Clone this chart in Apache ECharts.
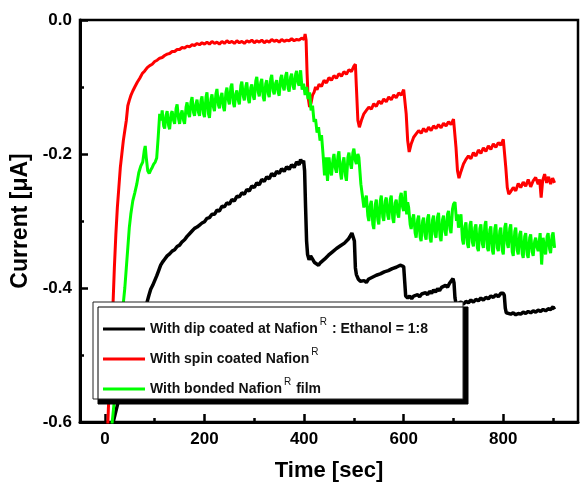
<!DOCTYPE html>
<html>
<head>
<meta charset="utf-8">
<script src="https://cdn.jsdelivr.net/npm/echarts@6/dist/echarts.min.js"></script>
<style>
html,body{margin:0;padding:0;background:#fff;}
#chart{width:580px;height:492px;}
</style>
</head>
<body>
<div id="chart"></div>
<script>
// ---- tick labels ----
const xMajorTicks = [0, 200, 400, 600, 800];
const xMinorTicks = [100, 300, 500, 700, 900];

// ---- legend text pieces ----
const seriesNames = ['dip', 'spin', 'bonded'];
const legendMain = ['With dip coated at Nafion', 'With spin coated Nafion', 'With bonded Nafion'];
const legendTail = [' : Ethanol = 1:8', '', ' film'];

// ---- data: [time (sec), current (uA)] ----
const blackData = [
[0,-0.66],[10,-0.62],[20,-0.59],[30,-0.56],[40,-0.53],[50,-0.50],[60,-0.475],[70,-0.45],[80,-0.43],
[84,-0.423],[88,-0.412],[92,-0.402],[96,-0.396],[100,-0.389],[104,-0.382],[108,-0.374],[112,-0.366],[116,-0.361],[120,-0.357],
[125,-0.352],[130,-0.349],[135,-0.345],[140,-0.343],[145,-0.338],[150,-0.336],[155,-0.331],[160,-0.328],[165,-0.323],[170,-0.319],
[175,-0.315],[180,-0.311],[185,-0.309],[190,-0.306],[195,-0.303],[200,-0.301],[205,-0.296],[210,-0.295],[215,-0.290],[220,-0.290],
[225,-0.284],[230,-0.285],[235,-0.278],[240,-0.279],[245,-0.273],[250,-0.275],[255,-0.268],[260,-0.270],[265,-0.263],[270,-0.264],
[275,-0.258],[280,-0.260],[285,-0.253],[290,-0.255],[295,-0.248],[300,-0.250],[305,-0.243],[310,-0.246],[315,-0.238],[320,-0.241],
[325,-0.234],[330,-0.237],[335,-0.229],[340,-0.233],[345,-0.226],[350,-0.229],[355,-0.222],[360,-0.226],[365,-0.219],[370,-0.223],
[375,-0.216],[380,-0.220],[385,-0.212],[390,-0.216],[393,-0.208],[396,-0.213],[399,-0.210],[401,-0.225],[403,-0.28],[405,-0.33],[407,-0.350],
[410,-0.358],[413,-0.352],[417,-0.357],[421,-0.362],[425,-0.360],[429,-0.366],[433,-0.362],[437,-0.364],[441,-0.357],[445,-0.356],
[449,-0.351],[453,-0.350],[457,-0.346],[461,-0.347],[465,-0.341],[469,-0.343],[473,-0.337],[477,-0.339],[481,-0.333],[485,-0.334],
[489,-0.327],[493,-0.329],[496,-0.318],[499,-0.325],[501,-0.33],[503,-0.37],[505,-0.380],
[509,-0.387],[513,-0.390],[517,-0.392],[521,-0.389],[525,-0.392],[529,-0.387],[533,-0.389],[537,-0.384],[541,-0.386],[545,-0.381],
[549,-0.383],[553,-0.379],[557,-0.381],[561,-0.376],[565,-0.378],[569,-0.374],[573,-0.376],[577,-0.371],[581,-0.373],[585,-0.369],
[589,-0.371],[593,-0.366],[597,-0.364],[600,-0.368],[602,-0.39],[604,-0.412],
[608,-0.415],[612,-0.412],[616,-0.416],[620,-0.412],[624,-0.414],[628,-0.410],[632,-0.413],[636,-0.409],[640,-0.411],[644,-0.407],
[648,-0.410],[652,-0.405],[656,-0.408],[660,-0.403],[664,-0.406],[668,-0.401],[672,-0.404],[676,-0.399],[680,-0.401],[684,-0.396],
[688,-0.399],[692,-0.393],[696,-0.395],[699,-0.386],[701,-0.392],[703,-0.415],[705,-0.423],
[710,-0.423],[715,-0.421],[720,-0.424],[725,-0.420],[730,-0.422],[735,-0.418],[740,-0.421],[745,-0.417],[750,-0.419],[755,-0.415],
[760,-0.418],[765,-0.414],[770,-0.416],[775,-0.412],[780,-0.414],[785,-0.410],[790,-0.413],[795,-0.408],[800,-0.408],[802,-0.411],
[804,-0.43],[806,-0.437],
[810,-0.437],[815,-0.439],[820,-0.437],[825,-0.440],[830,-0.438],[835,-0.439],[840,-0.436],[845,-0.438],[850,-0.435],[855,-0.437],
[860,-0.434],[865,-0.436],[870,-0.433],[875,-0.435],[880,-0.432],[885,-0.434],[890,-0.431],[895,-0.432],[900,-0.428],[903,-0.432]
];

const redData = [
[4,-0.64],[7,-0.58],[10,-0.53],[13,-0.48],[16,-0.43],[19,-0.37],[22,-0.32],[25,-0.28],[28,-0.25],[31,-0.22],[34,-0.20],[37,-0.18],
[40,-0.165],[43,-0.15],[46,-0.128],[49,-0.12],[52,-0.113],[56,-0.106],[60,-0.100],[65,-0.093],[70,-0.087],[75,-0.080],[80,-0.076],
[85,-0.071],[90,-0.068],[95,-0.066],[100,-0.062],[105,-0.060],[110,-0.057],[115,-0.056],[120,-0.053],[125,-0.051],[130,-0.050],
[135,-0.047],[140,-0.047],[145,-0.044],[150,-0.044],[155,-0.041],[160,-0.042],[165,-0.039],[170,-0.040],[175,-0.037],[180,-0.038],
[185,-0.035],[190,-0.037],[195,-0.034],[200,-0.036],[205,-0.033],[210,-0.036],[215,-0.032],[220,-0.035],[225,-0.033],[230,-0.036],
[235,-0.032],[240,-0.035],[245,-0.031],[250,-0.034],[255,-0.032],[260,-0.035],[265,-0.031],[270,-0.034],[275,-0.032],[280,-0.035],
[285,-0.031],[290,-0.033],[295,-0.030],[300,-0.034],[305,-0.031],[310,-0.033],[315,-0.030],[320,-0.034],[325,-0.031],[330,-0.033],
[335,-0.029],[340,-0.032],[345,-0.030],[350,-0.033],[355,-0.029],[360,-0.032],[365,-0.030],[370,-0.031],[375,-0.028],[380,-0.031],
[385,-0.029],[390,-0.030],[395,-0.027],[400,-0.029],[402,-0.021],[404,-0.03],[406,-0.08],[408,-0.115],[411,-0.13],
[414,-0.124],[417,-0.112],[420,-0.108],[423,-0.100],[426,-0.104],[430,-0.096],[435,-0.099],[440,-0.090],[445,-0.094],[450,-0.086],
[455,-0.090],[460,-0.083],[465,-0.087],[470,-0.080],[475,-0.084],[480,-0.077],[485,-0.081],[490,-0.074],[495,-0.077],[500,-0.069],
[503,-0.066],[505,-0.10],[508,-0.15],[511,-0.160],[515,-0.150],
[520,-0.140],[525,-0.135],[530,-0.130],[535,-0.133],[540,-0.125],[545,-0.129],[550,-0.121],[555,-0.125],[560,-0.118],[565,-0.122],
[570,-0.115],[575,-0.119],[580,-0.112],[585,-0.116],[590,-0.109],[595,-0.112],[600,-0.104],[603,-0.103],[605,-0.14],[608,-0.18],
[611,-0.197],[615,-0.185],
[620,-0.175],[625,-0.170],[630,-0.165],[635,-0.169],[640,-0.162],[645,-0.167],[650,-0.160],[655,-0.165],[660,-0.158],[665,-0.162],
[670,-0.156],[675,-0.161],[680,-0.154],[685,-0.158],[690,-0.152],[695,-0.156],[700,-0.148],[703,-0.150],[705,-0.19],[708,-0.225],
[711,-0.236],[715,-0.226],
[720,-0.215],[725,-0.208],[730,-0.203],[735,-0.207],[740,-0.198],[745,-0.203],[750,-0.194],[755,-0.199],[760,-0.191],[765,-0.196],
[770,-0.188],[775,-0.193],[780,-0.185],[785,-0.190],[790,-0.183],[795,-0.187],[800,-0.178],[803,-0.176],[805,-0.22],[808,-0.25],
[811,-0.260],[815,-0.256],
[820,-0.250],[825,-0.255],[830,-0.244],[835,-0.250],[840,-0.242],[845,-0.248],[850,-0.238],[855,-0.249],[860,-0.240],[865,-0.235],
[870,-0.245],[873,-0.238],[876,-0.265],[879,-0.240],[883,-0.230],[887,-0.243],[891,-0.234],[895,-0.245],[899,-0.236],[903,-0.243]
];

const greenData = [
[8,-0.66],[12,-0.62],[16,-0.59],[20,-0.56],[24,-0.53],[28,-0.50],[32,-0.47],[36,-0.43],[40,-0.40],[43,-0.37],[46,-0.34],[49,-0.31],
[52,-0.29],[56,-0.270],[60,-0.258],[64,-0.245],[68,-0.228],[72,-0.218],[76,-0.212],[79,-0.195],[81,-0.188],[83,-0.205],[86,-0.225],
[89,-0.229],[92,-0.224],[95,-0.220],[98,-0.215],[101,-0.212],[104,-0.206],[107,-0.175],[110,-0.140],
[113,-0.150],[115,-0.135],[118,-0.158],[120,-0.162],[123,-0.142],[125,-0.136],[128,-0.158],[130,-0.163],[133,-0.140],[135,-0.136],
[138,-0.150],[140,-0.155],[143,-0.132],[145,-0.126],[148,-0.148],[150,-0.155],[153,-0.140],[155,-0.135],[158,-0.150],[160,-0.155],
[163,-0.130],[165,-0.123],[168,-0.140],[170,-0.145],[173,-0.122],[175,-0.115],[178,-0.138],[180,-0.143],[183,-0.125],[185,-0.119],
[188,-0.138],[190,-0.143],[193,-0.120],[195,-0.114],[198,-0.140],[200,-0.145],[203,-0.115],[205,-0.108],[208,-0.140],[210,-0.146],
[213,-0.118],[215,-0.111],[218,-0.130],[220,-0.136],[223,-0.110],[225,-0.103],[228,-0.127],[230,-0.132],[233,-0.114],[235,-0.109],
[238,-0.130],[240,-0.136],[243,-0.108],[245,-0.101],[248,-0.120],[250,-0.126],[253,-0.100],[255,-0.095],[258,-0.124],[260,-0.130],
[263,-0.110],[265,-0.105],[268,-0.120],[270,-0.126],[273,-0.098],[275,-0.092],[278,-0.114],[280,-0.120],[283,-0.099],[285,-0.093],
[288,-0.118],[290,-0.124],[293,-0.101],[295,-0.096],[298,-0.114],[300,-0.119],[303,-0.091],[305,-0.085],[308,-0.108],[310,-0.114],
[313,-0.093],[315,-0.088],[318,-0.115],[320,-0.121],[323,-0.095],[325,-0.090],[328,-0.110],[330,-0.115],[333,-0.088],[335,-0.082],
[338,-0.106],[340,-0.111],[343,-0.094],[345,-0.090],[348,-0.108],[350,-0.113],[353,-0.087],[355,-0.082],[358,-0.100],[360,-0.105],
[363,-0.083],[365,-0.078],[368,-0.102],[370,-0.107],[373,-0.085],[375,-0.080],[378,-0.099],[380,-0.104],[383,-0.081],[385,-0.076],
[388,-0.094],[390,-0.098],[393,-0.075],[396,-0.104],[399,-0.095],[402,-0.112],
[405,-0.100],[408,-0.118],[411,-0.108],[414,-0.135],[417,-0.128],[420,-0.152],[423,-0.148],[426,-0.168],[429,-0.160],[432,-0.180],
[435,-0.172],[438,-0.200],[441,-0.232],[444,-0.205],[447,-0.240],[450,-0.205],[453,-0.225],[455,-0.232],[458,-0.208],[460,-0.200],
[463,-0.222],[465,-0.228],[468,-0.203],[470,-0.196],[473,-0.228],[475,-0.238],[478,-0.212],[480,-0.205],[483,-0.232],[485,-0.240],
[488,-0.205],[490,-0.198],[493,-0.215],[495,-0.222],[498,-0.198],[500,-0.192],[503,-0.210],[505,-0.215],[508,-0.200],[510,-0.205],
[514,-0.245],[517,-0.262],[520,-0.280],[523,-0.268],[525,-0.262],[528,-0.292],[530,-0.300],[533,-0.276],[535,-0.270],[538,-0.305],
[540,-0.312],[543,-0.275],[545,-0.268],[548,-0.298],[550,-0.305],[553,-0.270],[555,-0.262],[558,-0.294],[560,-0.300],[563,-0.270],
[565,-0.265],[568,-0.292],[570,-0.298],[573,-0.268],[575,-0.262],[578,-0.296],[580,-0.303],[583,-0.273],[585,-0.268],[588,-0.290],
[590,-0.295],[593,-0.264],[595,-0.258],[598,-0.280],[600,-0.285],[603,-0.255],[606,-0.290],[608,-0.272],[610,-0.280],[613,-0.305],
[615,-0.312],[618,-0.296],[620,-0.290],[623,-0.318],[625,-0.325],[628,-0.298],[630,-0.292],[633,-0.324],[635,-0.330],[638,-0.300],
[640,-0.295],[643,-0.322],[645,-0.328],[648,-0.296],[650,-0.290],[653,-0.326],[655,-0.332],[658,-0.298],[660,-0.292],[663,-0.320],
[665,-0.325],[668,-0.294],[670,-0.288],[673,-0.324],[675,-0.330],[678,-0.298],[680,-0.292],[683,-0.316],[685,-0.322],[688,-0.290],
[690,-0.285],[693,-0.312],[695,-0.318],[698,-0.282],[700,-0.275],[703,-0.272],[706,-0.300],[708,-0.290],[710,-0.310],[713,-0.296],
[715,-0.290],[718,-0.328],[720,-0.335],[723,-0.308],[725,-0.302],[728,-0.334],[730,-0.340],[733,-0.306],[735,-0.300],[738,-0.332],
[740,-0.338],[743,-0.310],[745,-0.305],[748,-0.340],[750,-0.345],[753,-0.311],[755,-0.305],[758,-0.334],[760,-0.340],[763,-0.306],
[765,-0.300],[768,-0.340],[770,-0.345],[773,-0.313],[775,-0.308],[778,-0.344],[780,-0.350],[783,-0.311],[785,-0.305],[788,-0.340],
[790,-0.345],[793,-0.315],[795,-0.310],[798,-0.344],[800,-0.350],[803,-0.309],[805,-0.303],[808,-0.334],[810,-0.340],[813,-0.311],
[815,-0.305],[818,-0.346],[820,-0.352],[823,-0.316],[825,-0.310],[828,-0.344],[830,-0.350],[833,-0.320],[835,-0.315],[838,-0.349],
[840,-0.355],[843,-0.323],[845,-0.318],[848,-0.350],[850,-0.355],[853,-0.325],[855,-0.320],[858,-0.346],[860,-0.352],[863,-0.330],
[865,-0.325],[868,-0.340],[870,-0.345],[874,-0.318],[877,-0.365],[880,-0.325],[883,-0.344],[885,-0.350],[888,-0.323],[890,-0.318],
[893,-0.342],[895,-0.348],[898,-0.322],[900,-0.317],[903,-0.340]
];

const FONT = "'Liberation Sans', Arial, Helvetica, sans-serif";
const chart = echarts.init(document.getElementById('chart'), null, {renderer: 'canvas'});

const lineSeries = (name, data, color, width) => ({
  name: name, type: 'line', data: data, showSymbol: false, symbol: 'none',
  lineStyle: {color: color, width: width}, itemStyle: {color: color},
  xAxisIndex: 0, yAxisIndex: 0, animation: false, z: 2
});

const gridBox = {left: 80, right: 2, top: 20, bottom: 70};

chart.setOption({
  animation: false,
  backgroundColor: '#fff',
  grid: [
    Object.assign({show: true, borderColor: '#000', borderWidth: 2.5, backgroundColor: 'transparent'}, gridBox),
    Object.assign({show: false}, gridBox)
  ],
  xAxis: [{
    type: 'value', min: -50, max: 950, position: 'bottom', gridIndex: 0,
    name: 'Time [sec]', nameLocation: 'middle', nameGap: 38,
    nameTextStyle: {fontFamily: FONT, fontWeight: 'bold', fontSize: 22, color: '#000'},
    axisLine: {show: true, onZero: false, lineStyle: {color: '#000', width: 3}},
    axisTick: {show: true, inside: true, length: 8, lineStyle: {color: '#000', width: 2.5}, customValues: xMajorTicks},
    axisLabel: {show: true, margin: 9, fontFamily: FONT, fontWeight: 'bold', fontSize: 17, color: '#000', customValues: xMajorTicks},
    splitLine: {show: false}
  }, {
    type: 'value', min: -50, max: 950, position: 'bottom', gridIndex: 1,
    axisLine: {show: false, onZero: false},
    axisTick: {show: true, inside: true, length: 4, lineStyle: {color: '#000', width: 2.5}, customValues: xMinorTicks},
    axisLabel: {show: false, customValues: xMinorTicks},
    splitLine: {show: false}
  }],
  yAxis: [{
    type: 'value', min: -0.6, max: 0, interval: 0.2, gridIndex: 0,
    name: 'Current [\u03bcA]', nameLocation: 'middle', nameGap: 46,
    nameTextStyle: {fontFamily: FONT, fontWeight: 'bold', fontSize: 23, color: '#000'},
    axisLine: {show: true, onZero: false, lineStyle: {color: '#000', width: 3}},
    axisTick: {show: true, inside: true, length: 8, lineStyle: {color: '#000', width: 2.5}},
    minorTick: {show: true, splitNumber: 2, length: 4, lineStyle: {color: '#000', width: 2.5}},
    axisLabel: {margin: 8, fontFamily: FONT, fontWeight: 'bold', fontSize: 17, color: '#000',
      formatter: v => v.toFixed(1)},
    splitLine: {show: false}
  }, {
    type: 'value', min: -0.6, max: 0, gridIndex: 1, show: false
  }],
  legend: {
    show: true, orient: 'vertical', left: 103, top: 317, padding: 0,
    itemWidth: 42, itemHeight: 3, itemGap: 11, icon: 'rect', selectedMode: false,
    data: seriesNames,
    formatter: name => {
      const i = seriesNames.indexOf(name);
      return '{t|' + legendMain[i] + '}{s|R}' + (legendTail[i] ? '{t|' + legendTail[i] + '}' : '');
    },
    textStyle: {
      fontFamily: FONT, fontWeight: 'bold', fontSize: 14, color: '#111',
      rich: {
        t: {fontFamily: FONT, fontWeight: 'bold', fontSize: 14, color: '#111', lineHeight: 24},
        s: {fontFamily: FONT, fontWeight: 'normal', fontSize: 10, color: '#111', lineHeight: 6, verticalAlign: 'top', padding: [0, 1, 0, 2]}
      }
    },
    z: 10
  },
  graphic: [{
    type: 'rect', z: 5, silent: true,
    shape: {x: 93, y: 302, width: 370, height: 97},
    style: {fill: '#fff', stroke: '#222', lineWidth: 1, shadowBlur: 0, shadowColor: '#000', shadowOffsetX: 5, shadowOffsetY: 5}
  }],
  series: [
    lineSeries('dip', blackData, '#000000', 3.5),
    lineSeries('spin', redData, '#ff0000', 3),
    lineSeries('bonded', greenData, '#00ff00', 3)
  ]
});
</script>
</body>
</html>
